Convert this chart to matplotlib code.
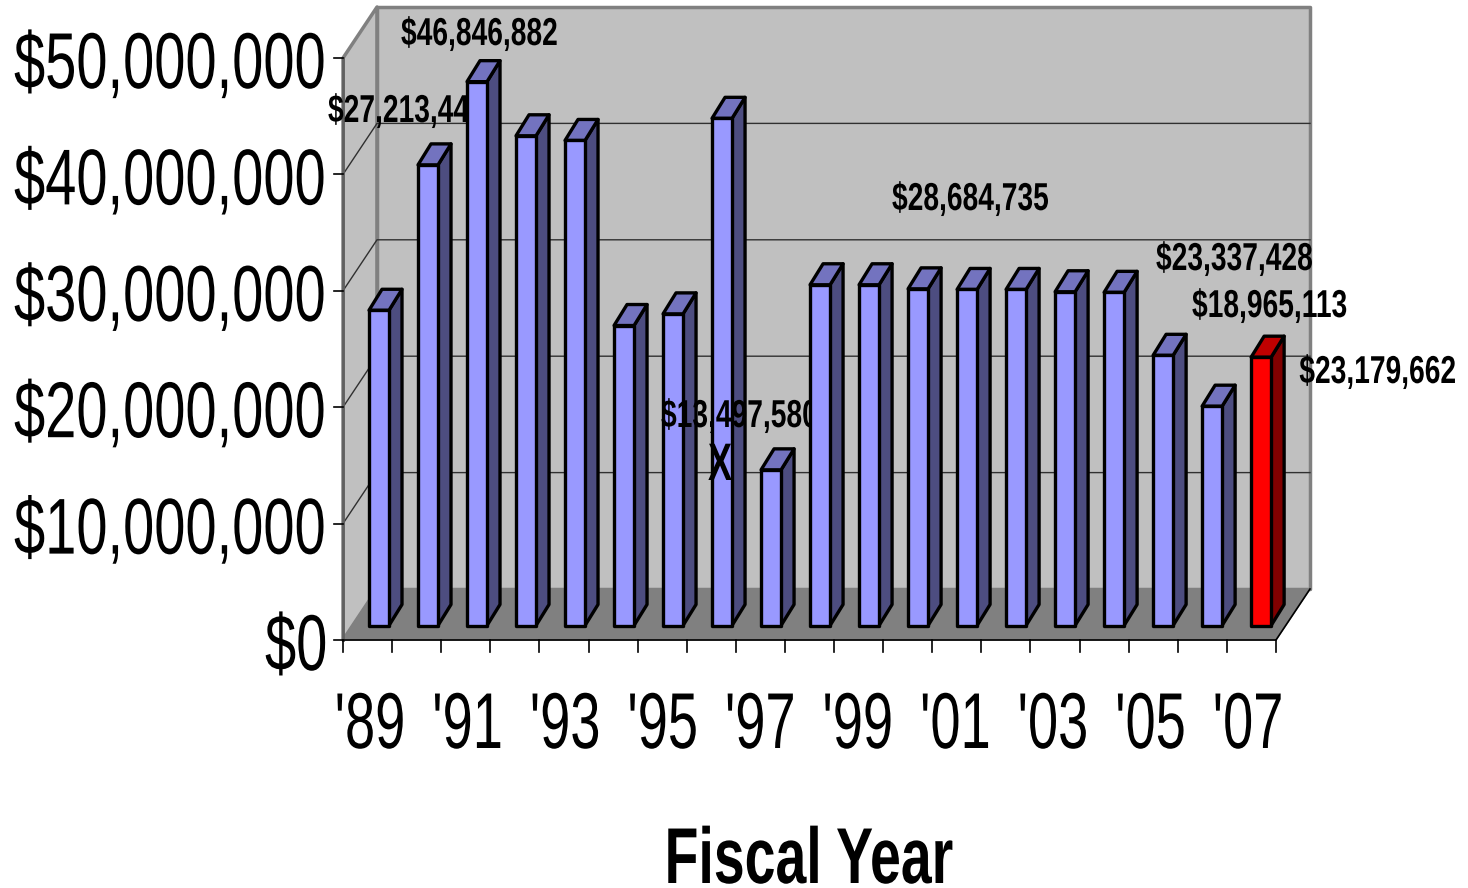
import matplotlib
matplotlib.use('Agg')
import matplotlib.pyplot as plt
from matplotlib.patches import Polygon
from matplotlib.patheffects import AbstractPathEffect
from matplotlib.transforms import Affine2D

# values, in millions
years = ["'89", "'90", "'91", "'92", "'93", "'94", "'95", "'96", "'97", "'98",
         "'99", "'00", "'01", "'02", "'03", "'04", "'05", "'06", "'07"]
values = [27.21, 39.7, 46.85, 42.2, 41.8, 25.9, 26.9, 43.7, 13.5, 29.4,
          29.4, 29.05, 29.0, 29.0, 28.8, 28.75, 23.34, 18.97, 23.18]
y_ticks = [0, 10, 20, 30, 40, 50]
y_labels = ['$0', '$10,000,000', '$20,000,000', '$30,000,000', '$40,000,000', '$50,000,000']
bar_labels = ['$27,213,44', '$46,846,882', '$13,497,580', '$28,684,735',
              '$23,337,428', '$18,965,113', '$23,179,662']

plt.rcParams['font.family'] = ['Liberation Sans']

W, H = 1468, 888
fig = plt.figure(figsize=(W / 100, H / 100), dpi=100)
# front plane of the fake 3d box: x = category slots, y = millions
left, right, bottom, top = 343, 1276, 640, 58
slot = (right - left) / len(years)
unit = (bottom - top) / 50
ax = fig.add_axes([left / W, 1 - bottom / H, (right - left) / W, (bottom - top) / H])
ax.set_xlim(0, len(years))
ax.set_ylim(0, 50)
ax.axis('off')

# depth of the box in data units
dx = 34 / slot
dy = 51 / unit
edge = '#808080'


class Squeeze(AbstractPathEffect):
    # the original font is a squashed Arial, so narrow the glyphs around x = cx
    def __init__(self, sx, cx):
        super().__init__()
        self.sx = sx
        self.cx = cx

    def draw_path(self, renderer, gc, tpath, affine, rgbFace=None):
        squeeze = Affine2D().translate(-self.cx, 0).scale(self.sx, 1).translate(self.cx, 0)
        renderer.draw_path(gc, tpath, affine + squeeze, rgbFace)


def put(px, py, s, size, ha='left', sx=0.725, **kw):
    t = ax.text((px - left) / slot, (bottom - py) / unit, s, fontsize=size, ha=ha,
                va='baseline', clip_on=False, **kw)
    t.set_path_effects([Squeeze(sx, px)])
    return t


def poly(pts, fc, ec='black', lw=2.4, z=2):
    ax.add_patch(Polygon(pts, closed=True, fc=fc, ec=ec, lw=lw, zorder=z, clip_on=False,
                         joinstyle='round'))


# walls and floor
poly([(0, 0), (dx, dy), (dx, 50 + dy), (0, 50)], '#c0c0c0', edge, 2.5, 1)
poly([(dx, dy), (19 + dx, dy), (19 + dx, 50 + dy), (dx, 50 + dy)], '#c0c0c0', edge, 2.5, 1)
poly([(0, 0), (19, 0), (19 + dx, dy), (dx, dy)], '#808080', '#808080', 1, 1)
for t in y_ticks[1:-1]:
    ax.plot([0, dx, 19 + dx], [t, t + dy, t + dy], color='#303030', lw=1, zorder=1.2, clip_on=False)

# axis lines and tick marks
ax.plot([0, 0], [0, 50], color='#606060', lw=2, zorder=1.5, clip_on=False)
ax.plot([0, 19, 19 + dx], [0, 0, dy], color='black', lw=1.2, zorder=1.5, clip_on=False)
for t in y_ticks:
    ax.plot([-0.18, 0], [t, t], color='black', lw=1.2, zorder=1.5, clip_on=False)
for i in range(len(years) + 1):
    ax.plot([i, i], [0, -1.0], color='black', lw=1.2, zorder=1.5, clip_on=False)

# bars hide some of the labels, so each label gets its own place in the stack
label_pos = [(328, 122, 3.015, 'left'), (401, 45, 5, 'left'), (661, 427, 3.085, 'left'),
             (892, 210, 5, 'left'), (1156, 270, 5, 'left'), (1192, 317, 5, 'left'),
             (1456, 383, 5, 'right')]
for s, (px, py, z, ha) in zip(bar_labels, label_pos):
    put(px, py, s, 28, ha=ha, fontweight='bold', zorder=z)
put(720, 480, 'X', 38, ha='center', sx=0.68, fontweight='bold', zorder=3.085)

# bars
bar_step = 0.998
bar_w = 20 / slot
off_x = 26 / slot
base_y = 14.5 / unit
off_y = 13 / unit
side_x = 13 / slot
side_y = 21 / unit
for i, v in enumerate(values):
    last = i == len(values) - 1
    front, roof, side = ('#ff0000', '#bf0000', '#800000') if last else ('#9999ff', '#7373bf', '#4d4d80')
    x0 = i * bar_step + off_x
    x1 = x0 + bar_w
    y0 = base_y
    y1 = off_y + v
    z = 3 + i * 0.01
    poly([(x1, y0), (x1 + side_x, y0 + side_y), (x1 + side_x, y1 + side_y), (x1, y1)], side, z=z)
    poly([(x0, y1), (x1, y1), (x1 + side_x, y1 + side_y), (x0 + side_x, y1 + side_y)], roof, z=z)
    poly([(x0, y0), (x1, y0), (x1, y1), (x0, y1)], front, z=z)

# tick labels, anchored at their left end so the full width layout stays on the canvas
tick_left = [265, 14, 14, 14, 14, 14]
for t, s, px in zip(y_ticks, y_labels, tick_left):
    put(px, bottom - t * unit + 30, s, 57, sx=0.708, zorder=6)
for i, s in enumerate(years):
    if i % 2 == 0:
        put(370 + i * 48.78, 748, s, 57, ha='center', sx=0.685, zorder=6)
put(809, 883, 'Fiscal Year', 57, ha='center', sx=0.70, fontweight='bold', zorder=6)

fig.savefig('out.png', dpi=100, facecolor='white')
